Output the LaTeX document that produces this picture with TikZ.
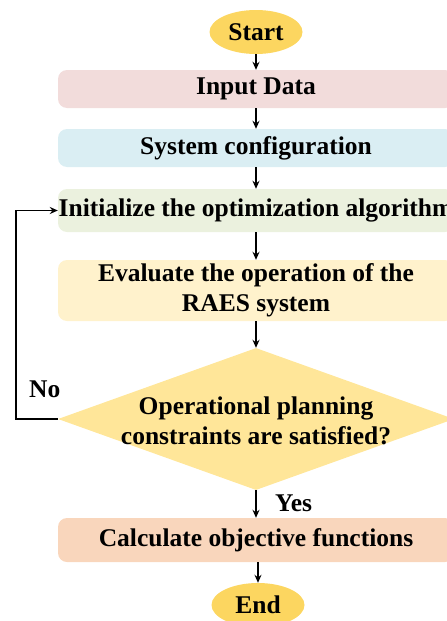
\documentclass[tikz,border=0pt]{standalone}
\usepackage{fontspec}
\setmainfont{Liberation Serif}
\usetikzlibrary{shapes.geometric,arrows.meta}
\definecolor{cterm}{HTML}{FCD660}
\definecolor{cinput}{HTML}{F2DCDB}
\definecolor{csys}{HTML}{DAEEF3}
\definecolor{cinit}{HTML}{EBF1DE}
\definecolor{ceval}{HTML}{FFF2CC}
\definecolor{cdec}{HTML}{FFE699}
\definecolor{ccalc}{HTML}{F9D6BC}
\begin{document}
\begin{tikzpicture}[x=1pt,y=-1pt,
  txt/.style={font=\fontsize{25.5}{30}\selectfont\bfseries, align=center},
  terminal/.style={ellipse, fill=cterm, minimum width=93pt, minimum height=44pt, inner sep=0pt, txt},
  procbox/.style={rectangle, rounded corners=9pt, minimum width=396pt, inner sep=0pt, txt},
  decision/.style={diamond, fill=cdec, minimum width=396pt, minimum height=142pt, inner sep=0pt},
  flow/.style={-{Stealth[length=8pt,width=7pt]}, line width=1.4pt},
  lbl/.style={txt, inner sep=0pt}]
\useasboundingbox (0,0) rectangle (447,621);
\clip (0,0) rectangle (447,621);

\node[terminal] (start) at (256,32) {Start};
\node[procbox, fill=cinput, minimum height=38pt] (input) at (256,89) {\raisebox{-2pt}{Input Data}};
\node[procbox, fill=csys, minimum height=38pt] (sys) at (256,148) {\raisebox{-2pt}{System configuration}};
\node[procbox, fill=cinit, minimum height=43pt] (init) at (256,210.5) {\raisebox{-2pt}{Initialize the optimization algorithm}};
\node[procbox, fill=ceval, minimum height=61pt] (eval) at (256,290.5) {Evaluate the operation of the\\RAES system};
\node[decision] (dec) at (256,419) {};
\node[txt] (dectext) at (256,421) {Operational planning\\constraints are satisfied?};
\node[procbox, fill=ccalc, minimum height=44pt] (calc) at (256,540) {\raisebox{-2pt}{Calculate objective functions}};
\node[terminal] (end) at (258,605) {End};

\draw[flow] (start.south) -- (input.north);
\draw[flow] (input.south) -- (sys.north);
\draw[flow] (sys.south) -- (init.north);
\draw[flow] (init.south) -- (eval.north);
\draw[flow] (eval.south) -- (dec.north);
\draw[flow] (dec.south) -- (calc.north);
\draw[flow] (calc.south -| end.north) -- (end.north);

\coordinate (loopbot) at (16,419);
\coordinate (looptop) at (16,210.5);
\draw[flow] (dec.west) -- (loopbot) -- (looptop) -- (init.west);

\node[lbl, anchor=west] (yes) at (275,503) {Yes};
\node[lbl, anchor=west] (no) at (29,389) {No};
\end{tikzpicture}
\end{document}
